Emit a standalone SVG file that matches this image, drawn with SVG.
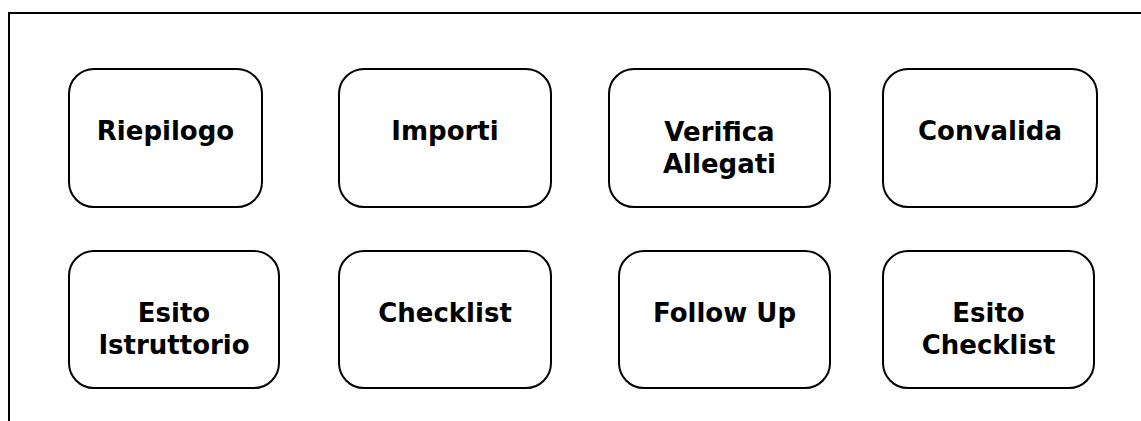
<svg xmlns="http://www.w3.org/2000/svg" width="1141" height="421" viewBox="0 0 1141 421">
<style>
.box{fill:#fff;stroke:#000;stroke-width:2}
.lbl{font-family:"DejaVu Sans","Verdana",sans-serif;font-weight:bold;font-size:26px;fill:#000;text-anchor:middle}
.frame{fill:none;stroke:#000;stroke-width:2}
</style>
<rect width="1141" height="421" fill="#fff"/>
<path class="frame" d="M9,421 V13 H1141"/>
<g id="riepilogo"><rect class="box" x="69" y="69" width="193" height="138" rx="25"/><text class="lbl" x="165.5" y="140">Riepilogo</text></g>
<g id="importi"><rect class="box" x="339" y="69" width="212" height="138" rx="25"/><text class="lbl" x="445" y="140">Importi</text></g>
<g id="verifica-allegati"><rect class="box" x="609" y="69" width="221" height="138" rx="25"/><text class="lbl" x="719.5" y="141">Verifica</text><text class="lbl" x="719.5" y="173">Allegati</text></g>
<g id="convalida"><rect class="box" x="883" y="69" width="214" height="138" rx="25"/><text class="lbl" x="990" y="140">Convalida</text></g>
<g id="esito-istruttorio"><rect class="box" x="69" y="251" width="210" height="137" rx="25"/><text class="lbl" x="174" y="322">Esito</text><text class="lbl" x="174" y="354">Istruttorio</text></g>
<g id="checklist"><rect class="box" x="339" y="251" width="212" height="137" rx="25"/><text class="lbl" x="445" y="322">Checklist</text></g>
<g id="follow-up"><rect class="box" x="619" y="251" width="211" height="137" rx="25"/><text class="lbl" x="724.5" y="322">Follow Up</text></g>
<g id="esito-checklist"><rect class="box" x="883" y="251" width="211" height="137" rx="25"/><text class="lbl" x="988.5" y="322">Esito</text><text class="lbl" x="988.5" y="354">Checklist</text></g>
<g id="connectors"></g>
</svg>
